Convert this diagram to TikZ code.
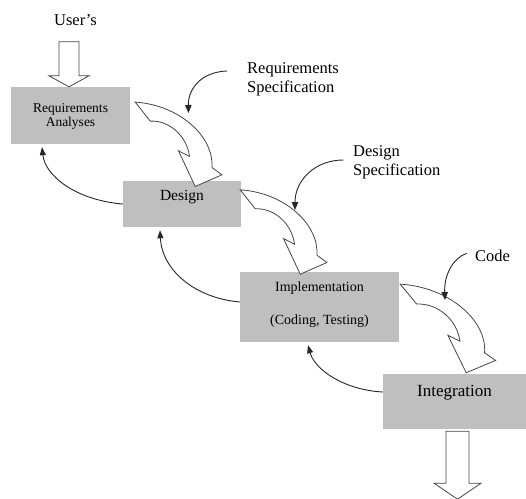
\documentclass[tikz,border=0pt]{standalone}
\usepackage{fontspec}
\setmainfont{Liberation Serif}
\usetikzlibrary{arrows.meta,calc}
\definecolor{boxgray}{RGB}{191,191,191}
\definecolor{outline}{RGB}{70,70,70}
\tikzset{
  stage/.style={fill=boxgray, inner xsep=0pt, inner ysep=0pt, align=center},
  caption/.style={font=\fontsize{16.5}{19}\selectfont, inner sep=0pt, align=left, anchor=west},
  hollow/.style={draw=outline, line width=0.8pt, fill=white, line join=miter},
  fb/.style={draw=black!85, line width=0.9pt, -{Triangle[length=8pt,width=6pt]}},
  pointer/.style={draw=black!85, line width=0.9pt, -{Triangle[length=8pt,width=6.5pt]}},
  % curved block arrow leading from one stage to the next
  pics/bend/.style={code={
    \draw[hollow] (0,0) -- (15,19)
      .. controls (35,18) and (52,35) .. (54.3,54.4)
      -- (43.3,48.7) -- (60,84.4) -- (86.7,72.7) -- (76.7,65.4)
      .. controls (79,35) and (45,3) .. (0,0) -- cycle;
  }}
}
\begin{document}
\begin{tikzpicture}[x=1pt,y=-1pt]
\useasboundingbox (0,0) rectangle (526,498);

% stages (text height/depth measured from the last baseline)
\node[stage, minimum width=119pt, text height=39.5pt, text depth=17.5pt,
      font=\fontsize{13.5}{14}\selectfont] (req) at (70.5,115.5) {Requirements\\Analyses};
\node[stage, minimum width=118pt, text height=19pt, text depth=27pt,
      font=\fontsize{15.5}{18}\selectfont] (des) at (182,204) {Design};
\node[stage, minimum width=159pt, text height=52pt, text depth=18pt,
      font=\fontsize{14}{32.5}\selectfont] (imp) at (319.5,307) {Implementation\\(Coding, Testing)};
\node[stage, minimum width=143pt, text height=22.5pt, text depth=32.5pt,
      font=\fontsize{17}{20}\selectfont] (int) at (454.5,401.5) {Integration};

% input and output
\node[font=\fontsize{16.5}{19}\selectfont, inner sep=0pt] (user) at (75.5,20) {User’s};
\coordinate (inTip) at ($(req.north)+(-1.5,0)$);
\draw[hollow] (inTip) -- ++(-20,-11) -- ++(10,0) -- ++(0,-34) -- ++(20,0)
  -- ++(0,34) -- ++(10,0) -- cycle;
\coordinate (outTop) at ($(int.south)+(-8.5,2)$);
\draw[hollow] (outTop) -- ++(23,0) -- ++(0,52) -- ++(12,0) -- ++(-23.5,16)
  -- ++(-23.5,-16) -- ++(12,0) -- cycle;

% block arrows between stages
\pic at ([xshift=5pt,yshift=-15.3pt]req.north east) {bend};
\pic at ([xshift=-1pt,yshift=-9pt]des.north east) {bend};
\pic[xscale=1.1,yscale=1.05] at ([xshift=1pt,yshift=-12.3pt]imp.north east) {bend};

% feedback arrows
\draw[fb] (des.west) .. controls +(-48,-4) and +(3,28) .. ([xshift=-28.5pt,yshift=-3pt]req.south);
\draw[fb] ([yshift=5pt]imp.west) .. controls +(-45,-4) and +(2,40) .. ([xshift=-22pt,yshift=-3pt]des.south);
\draw[fb] ([yshift=9.5pt]int.west) .. controls +(-38,-2) and +(7,25) .. ([xshift=-11.5pt,yshift=-3pt]imp.south);

% documents handed over
\node[caption] (rs) at (247,79.5) {Requirements\\Specification};
\node[caption] (ds) at (353,162.5) {Design\\Specification};
\node[caption] (code) at (475,256) {Code};
\coordinate (rsTip) at (188.5,113);
\coordinate (dsTip) at (295,210);
\coordinate (codeTip) at (445,300);
\draw[pointer] ($(rs.west)+(-20,-8.5)$) .. controls +(-27,1) and +(-0.5,-23) .. (rsTip);
\draw[pointer] ($(ds.west)+(-9.7,-2.5)$) .. controls +(-28,0) and +(0,-30) .. (dsTip);
\draw[pointer] ($(code.west)+(-8.3,-2.7)$) .. controls +(-14,5) and +(-1,-25) .. (codeTip);
\end{tikzpicture}
\end{document}
